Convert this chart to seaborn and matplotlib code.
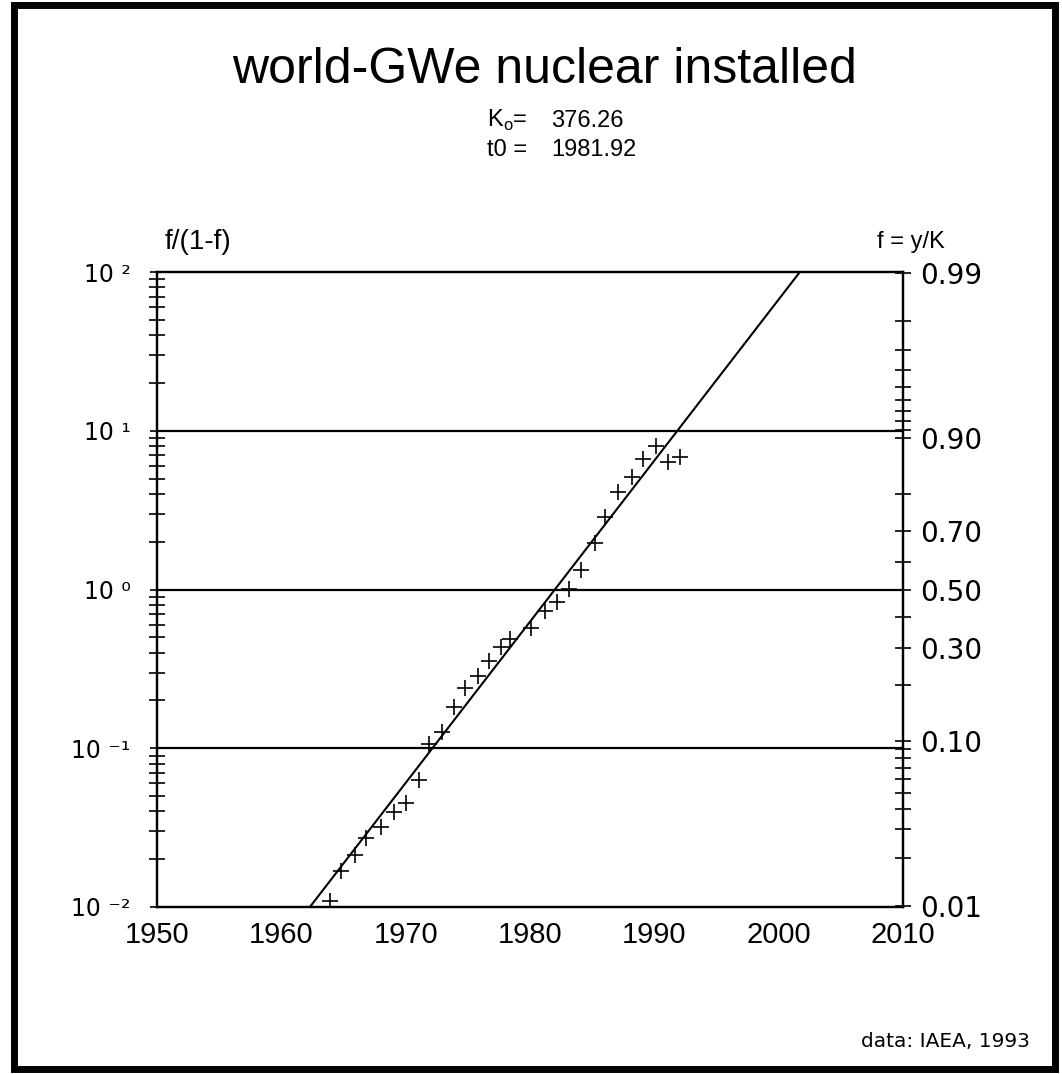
import numpy as np
import pandas as pd
import seaborn as sns
import matplotlib.pyplot as plt
from matplotlib.patches import Rectangle
from matplotlib.ticker import FixedLocator, LogLocator, NullFormatter

# data
years = [1963.9, 1964.8, 1965.9, 1966.8, 1968.0, 1969.1, 1970.0, 1971.1, 1971.9,
         1972.9, 1973.9, 1974.8, 1975.8, 1976.7, 1977.7, 1978.4, 1980.1, 1981.2,
         1982.2, 1983.1, 1984.1, 1985.2, 1986.0, 1987.1, 1988.2, 1989.1, 1990.1,
         1991.1, 1992.1]
ratio = [0.0109, 0.0169, 0.0213, 0.0271, 0.0318, 0.0398, 0.0450, 0.0631, 0.107,
         0.127, 0.181, 0.239, 0.285, 0.356, 0.437, 0.485, 0.574, 0.735,
         0.838, 1.01, 1.33, 1.95, 2.87, 4.13, 5.14, 6.61, 8.02,
         6.38, 6.81]

# fitted logistic (straight line in this scale)
fit_years = [1962.3, 2001.7]
fit_ratio = [0.01, 100]

x_ticks = [1950, 1960, 1970, 1980, 1990, 2000, 2010]
left_ticks = [0.01, 0.1, 1, 10, 100]
left_labels = ["10 \u207b\u00b2", "10 \u207b\u00b9", "10 \u2070", "10 \u00b9", "10 \u00b2"]
f_major = [0.01, 0.10, 0.30, 0.50, 0.70, 0.90, 0.99]
f_labels = ["0.01", "0.10", "0.30", "0.50", "0.70", "0.90", "0.99"]
f_minor = [0.02, 0.03, 0.04, 0.05, 0.06, 0.07, 0.08, 0.09,
           0.2, 0.4, 0.6, 0.8,
           0.91, 0.92, 0.93, 0.94, 0.95, 0.96, 0.97, 0.98]

df = pd.DataFrame({"year": years, "ratio": ratio})

sns.set_theme(style="white")
plt.rcParams["font.family"] = ["Liberation Sans", "DejaVu Sans"]
plt.rcParams["mathtext.fontset"] = "custom"
plt.rcParams["mathtext.rm"] = "Liberation Sans"
plt.rcParams["text.color"] = "black"
plt.rcParams["xtick.color"] = "black"
plt.rcParams["ytick.color"] = "black"
plt.rcParams["xtick.labelcolor"] = "black"
plt.rcParams["ytick.labelcolor"] = "black"

fig = plt.figure(figsize=(10.62, 10.74), dpi=100)
ax = fig.add_axes([0.1478, 0.1555, 0.7025, 0.5912])

sns.lineplot(x=fit_years, y=fit_ratio, ax=ax, color="black", lw=1.5)
sns.scatterplot(data=df, x="year", y="ratio", marker="+", s=140,
                color="black", linewidth=1.2, ax=ax, zorder=3)

ax.set_yscale("log")
ax.set_ylim(0.01, 100)
ax.set_xlim(1950, 2010)
ax.set_xlabel("")
ax.set_ylabel("")
for v in [0.1, 1, 10]:
    ax.axhline(v, color="black", lw=1.6, zorder=1)

for s in ax.spines.values():
    s.set_color("black")
    s.set_linewidth(1.6)

ax.set_xticks(x_ticks)
ax.set_xticklabels([str(t) for t in x_ticks],
                   family=["Liberation Sans Narrow", "Liberation Sans"], fontsize=21)
ax.tick_params(axis="x", direction="inout", length=12, width=1.2, pad=4, colors="black")

ax.yaxis.set_major_locator(FixedLocator(left_ticks))
ax.set_yticklabels(left_labels, family="DejaVu Sans", fontsize=17)
ax.yaxis.set_minor_locator(LogLocator(base=10, subs=np.arange(2, 10)))
ax.yaxis.set_minor_formatter(NullFormatter())
ax.tick_params(axis="y", which="major", direction="out", length=5, width=1.2, pad=14, colors="black")
ax.tick_params(axis="y", which="minor", direction="inout", length=11, width=1.2, left=True)

# right axis: f = y/K at positions f/(1-f)
tw = ax.twinx()
tw.set_yscale("log")
tw.set_ylim(ax.get_ylim())
tw.yaxis.set_major_locator(FixedLocator([f / (1 - f) for f in f_major]))
tw.set_yticklabels(f_labels, family="DejaVu Sans", fontsize=20)
tw.yaxis.set_minor_locator(FixedLocator([f / (1 - f) for f in f_minor]))
tw.yaxis.set_minor_formatter(NullFormatter())
tw.tick_params(axis="y", which="both", direction="inout", length=12, width=1.2, pad=6, colors="black")
tw.tick_params(axis="y", which="minor", right=True)
for s in tw.spines.values():
    s.set_color("black")
    s.set_linewidth(1.6)

W, H = 1062, 1074
fig.text(545 / W, 1 - 83 / H, "world-GWe nuclear installed", fontsize=36,
         ha="center", va="baseline", color="black")
fig.text(487 / W, 1 - 127 / H, r"K$_{\mathrm{o}}$=", fontsize=17, ha="left", va="baseline")
fig.text(551 / W, 1 - 127 / H, "376.26", fontsize=17, ha="left", va="baseline")
fig.text(487 / W, 1 - 156 / H, "t0 =", fontsize=17, ha="left", va="baseline")
fig.text(551 / W, 1 - 156 / H, "1981.92", fontsize=17, ha="left", va="baseline")
fig.text(198 / W, 1 - 242 / H, "f/(1-f)", fontsize=20, ha="center", va="center")
fig.text(911 / W, 1 - 242 / H, "f = y/K", fontsize=17, ha="center", va="center")
fig.text(1030 / W, 1 - 1047 / H, "data: IAEA, 1993", fontsize=14.5,
         family="DejaVu Sans", ha="right", va="baseline")

fig.patches.append(Rectangle((14 / W, 5 / H), 1041 / W, 1064 / H,
                             transform=fig.transFigure, fill=False, lw=5, ec="black"))

fig.savefig("out.png", dpi=100, facecolor="white")
